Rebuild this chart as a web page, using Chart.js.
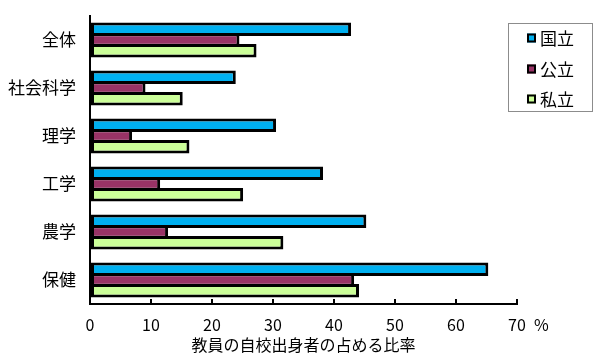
<!DOCTYPE html>
<html>
<head>
<meta charset="utf-8">
<script src="https://cdn.jsdelivr.net/npm/chart.js@4/dist/chart.umd.min.js"></script>
<style>
html,body{margin:0;padding:0;background:#fff;}
#wrap{width:600px;height:359px;}
</style>
</head>
<body>
<div id="wrap"><canvas id="c" width="600" height="359"></canvas></div>
<script>
const categories = ["全体", "社会科学", "理学", "工学", "農学", "保健"];
const seriesNames = ["国立", "公立", "私立"];
const national = [42.8, 23.9, 30.5, 38.2, 45.3, 65.3];
const publicV = [24.5, 9.1, 6.9, 11.5, 12.8, 43.3];
const privateV = [27.3, 15.2, 16.3, 25.1, 31.7, 44.1];
const xTicks = [0, 10, 20, 30, 40, 50, 60, 70];
const unitLabel = "%";
const xTitle = "教員の自校出身者の占める比率";

const colors = ["#00B0F0", "#993366", "#CCFF99"];
const FONT = "'Noto Sans CJK JP', 'Noto Sans', sans-serif";

const overlayPlugin = {
  id: 'overlay',
  afterDraw(chart) {
    const ctx = chart.ctx;
    const xs = chart.scales.x;
    ctx.save();
    ctx.fillStyle = '#000';
    ctx.font = "16px " + FONT;
    ctx.textAlign = 'left';
    ctx.textBaseline = 'middle';
    const lastTick = xTicks[xTicks.length - 1];
    ctx.fillText(unitLabel, xs.getPixelForValue(lastTick) + 17, 325);
    // legend
    const bx = 508.5, by = 23.5, bw = 84, bh = 88;
    ctx.strokeStyle = '#8c8c8c';
    ctx.lineWidth = 1;
    ctx.strokeRect(bx, by, bw, bh);
    const ys = [38, 69, 99];
    ctx.font = "17px " + FONT;
    chart.data.datasets.forEach((ds, i) => {
      const y = ys[i];
      ctx.fillStyle = ds.backgroundColor;
      ctx.fillRect(527, y - 4.5, 9, 9);
      ctx.strokeStyle = '#000';
      ctx.lineWidth = 2;
      ctx.strokeRect(528, y - 3.5, 7, 7);
      ctx.fillStyle = '#000';
      ctx.textAlign = 'left';
      ctx.textBaseline = 'middle';
      ctx.fillText(ds.label, 540, y + 1);
    });
    ctx.restore();
  }
};

new Chart(document.getElementById('c'), {
  type: 'bar',
  data: {
    labels: categories,
    datasets: [
      { label: seriesNames[0], data: national, backgroundColor: colors[0] },
      { label: seriesNames[1], data: publicV, backgroundColor: colors[1] },
      { label: seriesNames[2], data: privateV, backgroundColor: colors[2] }
    ].map(d => Object.assign(d, {
      borderColor: '#000', borderWidth: 3, borderSkipped: false,
      categoryPercentage: 0.67, barPercentage: 1.25
    }))
  },
  options: {
    indexAxis: 'y',
    responsive: false,
    animation: false,
    layout: { padding: { left: 2, right: 83, top: 16, bottom: 4 } },
    plugins: { legend: { display: false }, tooltip: { enabled: false } },
    scales: {
      x: {
        min: 0, max: 70,
        afterBuildTicks(scale) { scale.ticks = xTicks.map(v => ({ value: v })); },
        afterFit(scale) { scale.height = 51; },
        grid: { drawOnChartArea: false, drawTicks: true, tickLength: -5, color: '#000', lineWidth: 2 },
        border: { display: true, color: '#000', width: 2 },
        ticks: { color: '#000', font: { family: FONT, size: 16 }, padding: 16, maxRotation: 0 },
        title: { display: true, text: xTitle, color: '#000', font: { family: FONT, size: 16 }, padding: { top: 0, bottom: 0 } }
      },
      y: {
        afterFit(scale) { scale.width = 88; scale.paddingTop = 0; scale.paddingBottom = 0; },
        grid: { display: false, drawTicks: false },
        border: { display: true, color: '#000', width: 2 },
        ticks: { color: '#000', font: { family: FONT, size: 17 }, padding: 14 }
      }
    }
  },
  plugins: [overlayPlugin]
});
</script>
</body>
</html>
